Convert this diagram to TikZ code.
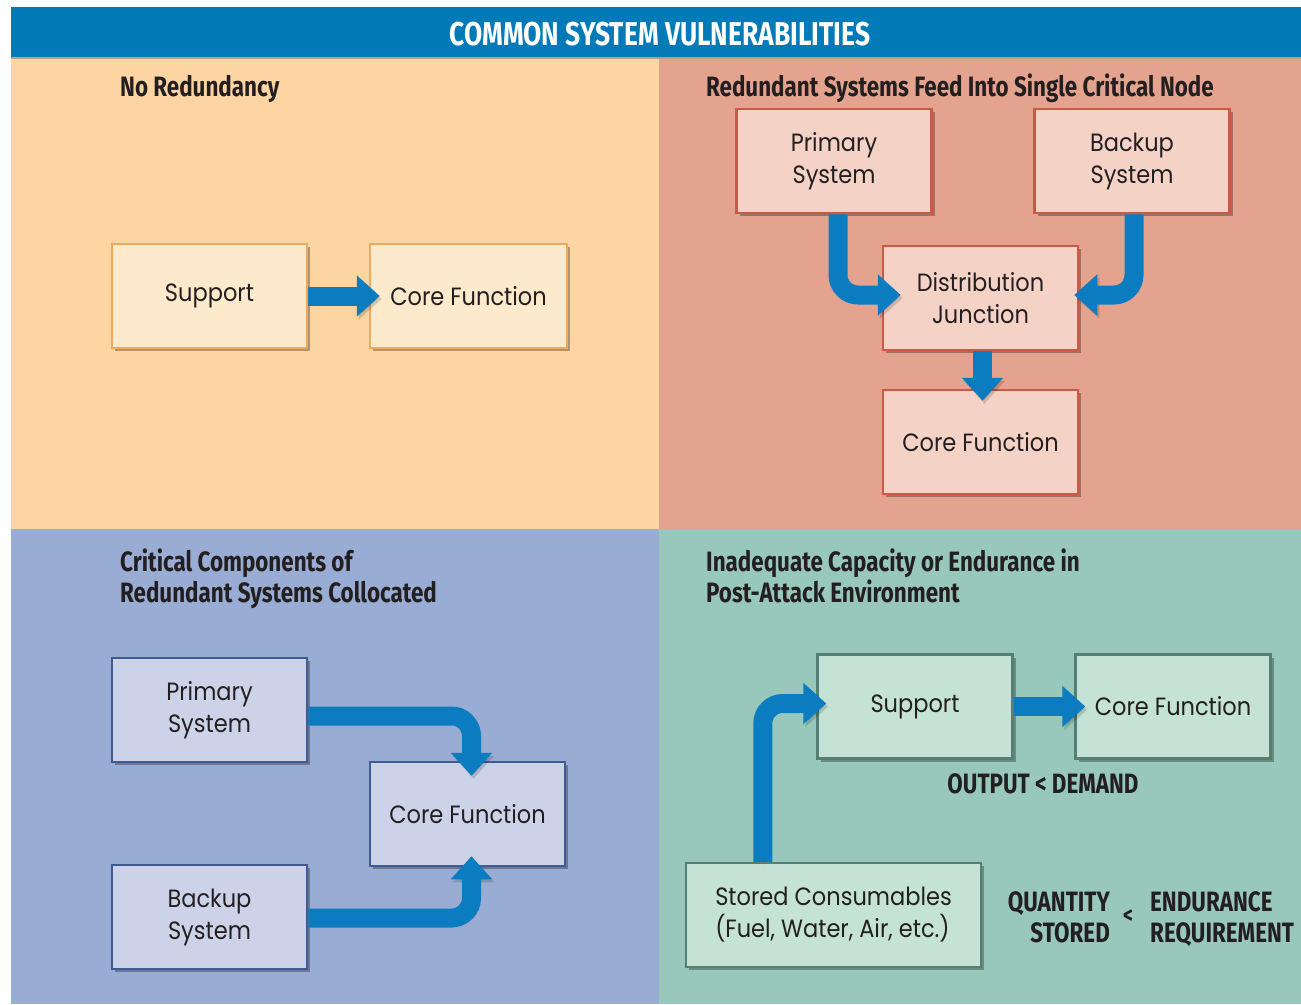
\documentclass[tikz,border=0pt]{standalone}
\usepackage{fontspec}
\setmainfont{Poppins}[FakeStretch=0.9]
\newfontfamily\headfont{Fira Sans}[FakeStretch=0.8]
\usetikzlibrary{arrows.meta,shadows,calc}
\definecolor{titleblue}{HTML}{027AB7}
\definecolor{arrowblue}{HTML}{0B7CC0}
\definecolor{bgTL}{HTML}{FDD5A2}\definecolor{fillTL}{HTML}{FDE9CB}\definecolor{edgeTL}{HTML}{EFA95A}
\definecolor{bgTR}{HTML}{E4A38F}\definecolor{fillTR}{HTML}{F4D3C6}\definecolor{edgeTR}{HTML}{C85A46}
\definecolor{bgBL}{HTML}{98ACD4}\definecolor{fillBL}{HTML}{CCD3E8}\definecolor{edgeBL}{HTML}{3F5B92}
\definecolor{bgBR}{HTML}{98C8BB}\definecolor{fillBR}{HTML}{C4E2D6}\definecolor{edgeBR}{HTML}{557F73}
\definecolor{ink}{HTML}{231F20}
\tikzset{
  boxbase/.style={rectangle, draw, line width=2.5pt, inner sep=0pt, minimum width=195pt, minimum height=104pt,
    text=ink, align=center, font=\fontsize{25}{32}\selectfont,
    drop shadow={shadow xshift=3pt, shadow yshift=-3pt, opacity=0.3, fill=black}},
  boxTL/.style={boxbase, fill=fillTL, draw=edgeTL},
  boxTR/.style={boxbase, fill=fillTR, draw=edgeTR},
  boxBL/.style={boxbase, fill=fillBL, draw=edgeBL},
  boxBR/.style={boxbase, fill=fillBR, draw=edgeBR},
  heading/.style={anchor=base west, inner sep=0pt, text=ink, align=left, font=\headfont\bfseries\fontsize{28}{31}\selectfont},
  bigarrow/.style={draw=arrowblue, line width=19pt, -{Triangle[length=23pt,width=40pt]},
    preaction={draw=black, opacity=0.15, transform canvas={shift={(2pt,-3pt)}}}},
}
\begin{document}
\begin{tikzpicture}[x=1pt,y=-1pt]
\useasboundingbox (0,0) rectangle (1301,1004);
\fill[white] (0,0) rectangle (1301,1004);
% backgrounds
\fill[titleblue] (11,7) rectangle (1301,57);
\fill[bgTL] (11,57) rectangle (659,529);
\fill[bgTR] (659,57) rectangle (1301,529);
\fill[bgBL] (11,529) rectangle (659,1004);
\fill[bgBR] (659,529) rectangle (1301,1004);
\draw[line width=2pt, color=black!25!bgTL] (11,58) -- (1301,58);
\node[anchor=base, inner sep=0pt, text=white, font=\headfont\bfseries\fontsize{33}{35}\selectfont] (title) at (660,45) {COMMON SYSTEM VULNERABILITIES};
% headings
\node[heading] (hTL) at (120,96) {No Redundancy};
\node[heading] (hTR) at (706,96) {Redundant Systems Feed Into Single Critical Node};
\node[heading] (hBL) at (120,602) {Critical Components of\\Redundant Systems Collocated};
\node[heading] (hBR) at (706,602) {Inadequate Capacity or Endurance in\\Post-Attack Environment};
% top-left
\node[boxTL] (s1) at (209.5,296) {Support};
\node[boxTL, minimum width=197pt] (c1) at (468.5,296) {Core Function};
\draw[bigarrow] (s1.east) -- ($(c1.west)+(11,0)$);
% top-right
\node[boxTR] (p2) at (834,161) {Primary\\System};
\node[boxTR] (b2) at (1132,161) {Backup\\System};
\node[boxTR] (d2) at (980.5,298) {Distribution\\Junction};
\node[boxTR] (c2) at (980.5,442) {Core Function};
\draw[bigarrow, rounded corners=20pt] ($(p2.south)+(4,0)$) |- ($(d2.west)+(19,-3)$);
\draw[bigarrow, rounded corners=20pt] ($(b2.south)+(2,0)$) |- ($(d2.east)+(-5,-3)$);
\draw[bigarrow] ($(d2.south)+(2,0)$) -- ($(c2.north)+(2,12)$);
% bottom-left
\node[boxBL] (p3) at (209.5,710) {Primary\\System};
\node[boxBL] (c3) at (467.5,814) {Core Function};
\node[boxBL] (b3) at (209.5,917) {Backup\\System};
\draw[bigarrow, rounded corners=20pt] ($(p3.east)+(0,6)$) -| ($(c3.north)+(4,15)$);
\draw[bigarrow, rounded corners=20pt] ($(b3.east)+(0,1)$) -| ($(c3.south)+(4,-11)$);
% bottom-right
\node[boxBR] (s4) at (915,706.5) {Support};
\node[boxBR] (c4) at (1173,706.5) {Core Function};
\node[boxBR, minimum width=295pt, align=left] (st) at (833.5,915) {Stored Consumables\\(Fuel, Water, Air, etc.)};
\draw[bigarrow] (s4.east) -- ($(c4.west)+(11,0)$);
\draw[bigarrow, rounded corners=20pt] ($(st.north west)+(78,0)$) |- ($(s4.west)+(10,-3)$);
\node[heading, anchor=base] (od) at (1043,793) {OUTPUT < DEMAND};
\node[heading, anchor=base east, align=right] (qs) at (1110,942) {QUANTITY\\STORED};
\node[heading, anchor=base, font=\headfont\bfseries\fontsize{24}{26}\selectfont] (lt) at (1128,923) {<};
\node[heading] (er) at (1150,942) {ENDURANCE\\REQUIREMENT};
\end{tikzpicture}
\end{document}
